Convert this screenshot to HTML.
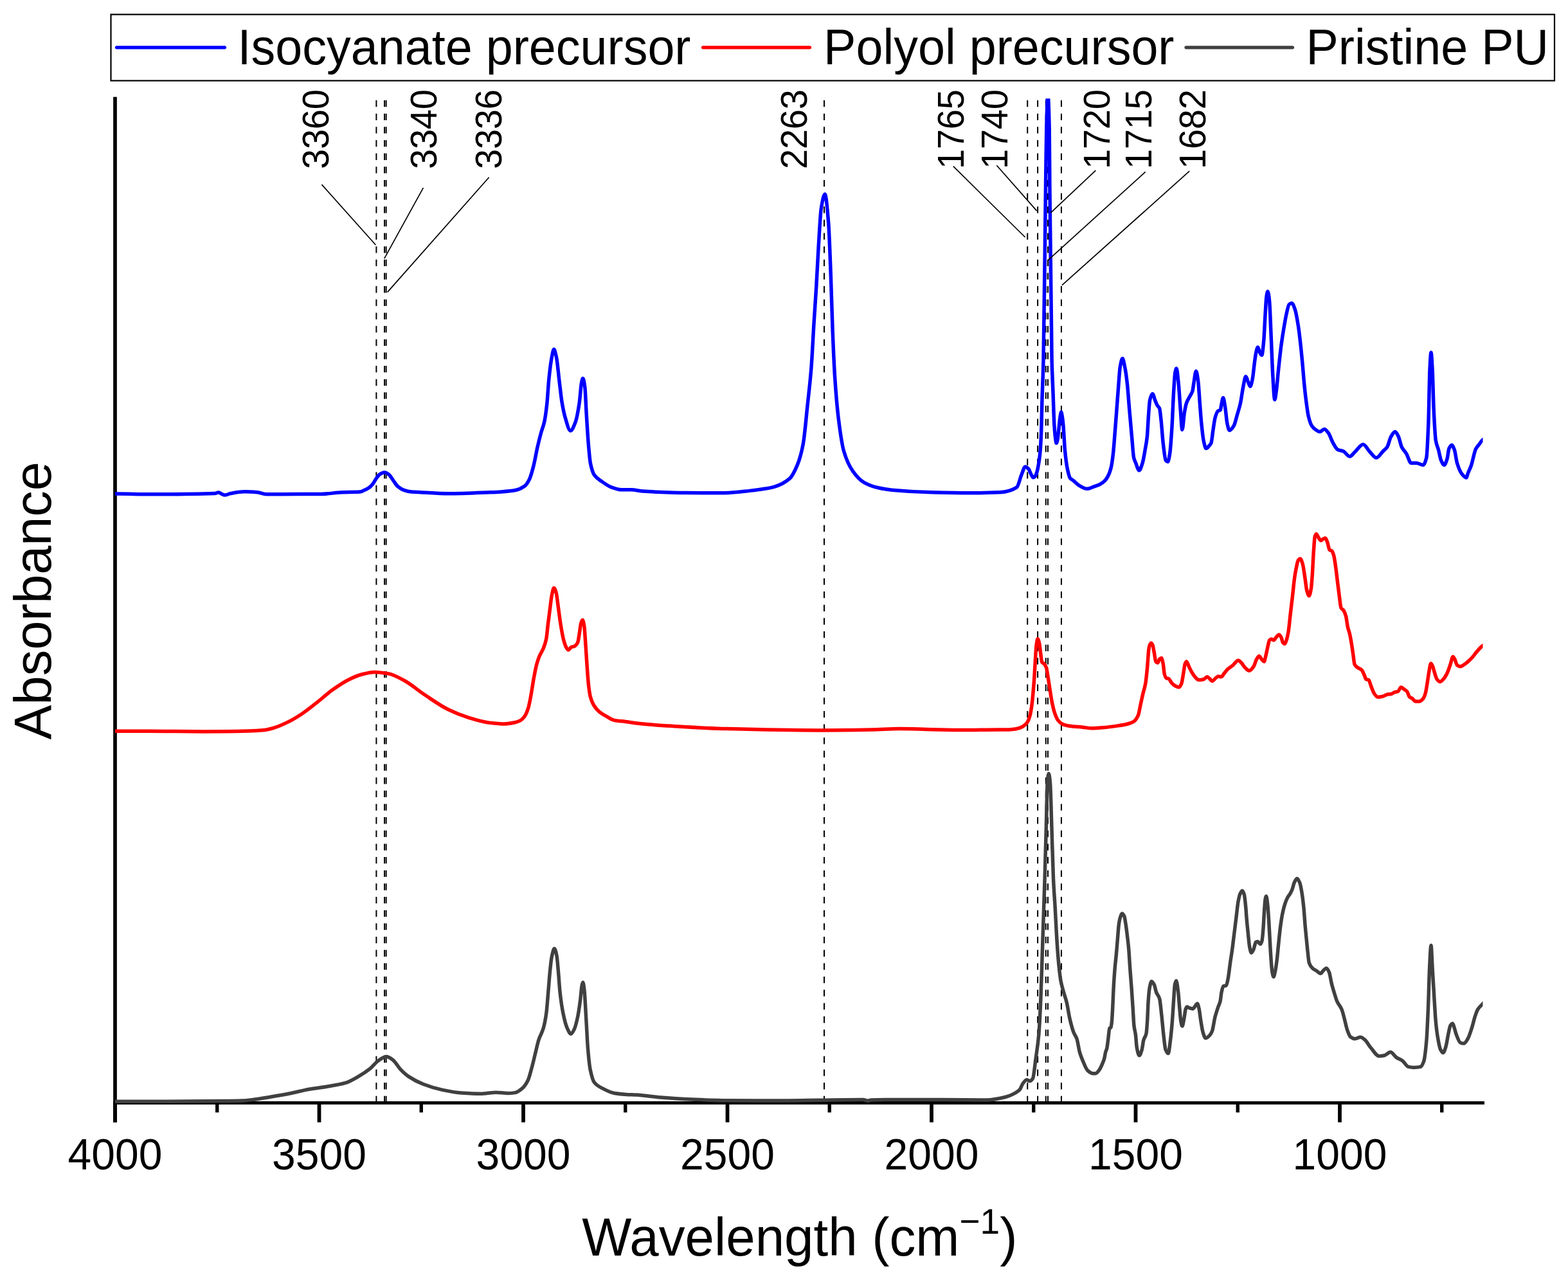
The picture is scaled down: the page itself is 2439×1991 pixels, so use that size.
<!DOCTYPE html>
<html><head><meta charset="utf-8"><title>FTIR spectra</title>
<style>html,body{margin:0;padding:0;background:#fff;}svg{display:block;}</style>
</head><body>
<svg width="2439" height="1991" viewBox="0 0 2439 1991" font-family="'Liberation Sans', Arial, Helvetica, sans-serif">
<rect x="0" y="0" width="2439" height="1991" fill="#fff"/>
<rect x="172.5" y="22.5" width="2245.5" height="103" fill="none" stroke="#000" stroke-width="2.2"/>
<line x1="181.5" y1="73.8" x2="349.5" y2="73.8" stroke="#0000ff" stroke-width="5.2" stroke-linecap="round"/>
<line x1="1093.5" y1="73.8" x2="1259.5" y2="73.8" stroke="#ff0000" stroke-width="5.2" stroke-linecap="round"/>
<line x1="1845" y1="73.8" x2="2010.5" y2="73.8" stroke="#404040" stroke-width="5.2" stroke-linecap="round"/>
<g font-size="75.5" fill="#000">
<text transform="translate(369.6,100) scale(1,1.025)">Isocyanate precursor</text>
<text transform="translate(1281.1,100) scale(1,1.025)">Polyol precursor</text>
<text transform="translate(2031.5,100) scale(1,1.025)">Pristine PU</text>
</g>
<g stroke="#000" fill="none">
<line x1="179" y1="150.7" x2="179" y2="1745.7" stroke-width="5.7"/>
<line x1="176" y1="1715.5" x2="2309" y2="1715.5" stroke-width="5.2"/>
<line x1="179.00" y1="1715" x2="179.00" y2="1745.7" stroke-width="5.8"/>
<line x1="496.50" y1="1715" x2="496.50" y2="1745.7" stroke-width="5.8"/>
<line x1="814.00" y1="1715" x2="814.00" y2="1745.7" stroke-width="5.8"/>
<line x1="1131.50" y1="1715" x2="1131.50" y2="1745.7" stroke-width="5.8"/>
<line x1="1449.00" y1="1715" x2="1449.00" y2="1745.7" stroke-width="5.8"/>
<line x1="1766.50" y1="1715" x2="1766.50" y2="1745.7" stroke-width="5.8"/>
<line x1="2084.00" y1="1715" x2="2084.00" y2="1745.7" stroke-width="5.8"/>
<line x1="337.75" y1="1715" x2="337.75" y2="1730.4" stroke-width="5.4"/>
<line x1="655.25" y1="1715" x2="655.25" y2="1730.4" stroke-width="5.4"/>
<line x1="972.75" y1="1715" x2="972.75" y2="1730.4" stroke-width="5.4"/>
<line x1="1290.25" y1="1715" x2="1290.25" y2="1730.4" stroke-width="5.4"/>
<line x1="1607.75" y1="1715" x2="1607.75" y2="1730.4" stroke-width="5.4"/>
<line x1="1925.25" y1="1715" x2="1925.25" y2="1730.4" stroke-width="5.4"/>
<line x1="2242.75" y1="1715" x2="2242.75" y2="1730.4" stroke-width="5.4"/>
</g>
<g stroke="#000" stroke-width="2" stroke-dasharray="10.3 10.35" fill="none">
<line x1="585.40" y1="156" x2="585.40" y2="1713"/>
<line x1="598.10" y1="156" x2="598.10" y2="1713"/>
<line x1="600.64" y1="156" x2="600.64" y2="1713"/>
<line x1="1282.00" y1="156" x2="1282.00" y2="1713"/>
<line x1="1598.22" y1="156" x2="1598.22" y2="1713"/>
<line x1="1614.10" y1="156" x2="1614.10" y2="1713"/>
<line x1="1626.80" y1="156" x2="1626.80" y2="1713"/>
<line x1="1629.97" y1="156" x2="1629.97" y2="1713"/>
<line x1="1650.93" y1="156" x2="1650.93" y2="1713"/>
</g>
<defs><clipPath id="pc"><rect x="179" y="153.3" width="2127.5" height="1600"/></clipPath></defs>
<g fill="none" stroke-width="5.5" stroke-linejoin="round" stroke-linecap="round" clip-path="url(#pc)">
<path stroke="#404040" d="M175.00,1713.20C176.80,1713.20 178.60,1713.20 180.40,1713.20C206.57,1713.20 232.73,1713.20 258.90,1713.20C288.50,1713.20 318.10,1712.93 347.70,1712.60C357.57,1712.49 367.43,1712.35 377.30,1712.00C383.23,1711.79 389.17,1710.92 395.10,1710.20C404.00,1709.12 412.90,1707.49 421.80,1706.00C431.67,1704.35 441.53,1702.65 451.40,1700.70C461.27,1698.75 471.13,1695.95 481.00,1694.20C490.87,1692.45 500.73,1691.50 510.60,1689.80C519.50,1688.27 528.40,1687.01 537.30,1684.40C544.20,1682.38 551.10,1678.05 558.00,1674.10C563.93,1670.70 569.87,1667.00 575.80,1662.20C579.77,1658.99 583.73,1653.12 587.70,1650.40C592.13,1647.36 596.57,1643.50 601.00,1643.50C604.47,1643.50 607.93,1646.38 611.40,1648.90C615.33,1651.76 619.27,1659.63 623.20,1663.70C627.13,1667.77 631.07,1671.44 635.00,1674.10C642.90,1679.44 650.80,1683.46 658.70,1686.50C668.60,1690.31 678.50,1693.35 688.40,1695.40C698.27,1697.45 708.13,1699.46 718.00,1700.10C727.87,1700.74 737.73,1701.30 747.60,1701.30C755.50,1701.30 763.40,1699.20 771.30,1699.20C777.53,1699.20 783.77,1700.50 790.00,1700.50C793.70,1700.50 797.40,1700.13 801.10,1699.60C804.77,1699.08 808.43,1696.19 812.10,1693.10C815.17,1690.52 818.23,1686.43 821.30,1680.20C823.17,1676.41 825.03,1668.55 826.90,1661.80C828.73,1655.17 830.57,1647.07 832.40,1639.70C834.23,1632.33 836.07,1623.32 837.90,1617.60C840.37,1609.91 842.83,1607.67 845.30,1599.10C846.83,1593.77 848.37,1586.34 849.90,1575.10C850.83,1568.26 851.77,1554.54 852.70,1543.80C853.63,1533.06 854.57,1519.63 855.50,1510.60C856.40,1501.89 857.30,1492.74 858.20,1488.50C859.57,1482.06 860.93,1475.50 862.30,1475.50C863.53,1475.50 864.77,1480.75 866.00,1486.70C866.80,1490.56 867.60,1501.81 868.40,1510.60C869.30,1520.48 870.20,1535.71 871.10,1543.80C872.63,1557.58 874.17,1567.63 875.70,1575.10C877.87,1585.65 880.03,1594.38 882.20,1599.10C884.17,1603.38 886.13,1608.30 888.10,1608.30C889.80,1608.30 891.50,1604.47 893.20,1601.00C895.07,1597.19 896.93,1589.55 898.80,1580.70C900.03,1574.85 901.27,1566.03 902.50,1556.70C903.40,1549.89 904.30,1536.69 905.20,1532.70C905.70,1530.48 906.20,1528.00 906.70,1528.00C907.43,1528.00 908.17,1534.23 908.90,1540.10C909.83,1547.57 910.77,1569.07 911.70,1584.40C912.60,1599.18 913.50,1619.76 914.40,1630.50C915.63,1645.22 916.87,1657.63 918.10,1663.60C920.27,1674.09 922.43,1681.20 924.60,1683.90C928.90,1689.26 933.20,1690.85 937.50,1693.10C943.63,1696.31 949.77,1699.50 955.90,1700.50C962.07,1701.51 968.23,1702.06 974.40,1702.40C979.60,1702.69 984.80,1702.72 990.00,1703.00C1001.47,1703.61 1012.93,1705.76 1024.40,1706.70C1041.60,1708.10 1058.80,1709.27 1076.00,1710.00C1095.13,1710.81 1114.27,1711.71 1133.40,1711.80C1162.07,1711.93 1190.73,1712.00 1219.40,1712.00C1238.53,1712.00 1257.67,1711.43 1276.80,1711.20C1298.77,1710.93 1320.73,1710.50 1342.70,1710.50C1345.10,1710.50 1347.50,1712.30 1349.90,1712.30C1351.60,1712.30 1353.30,1711.09 1355.00,1711.00C1362.40,1710.63 1369.80,1710.50 1377.20,1710.50C1391.53,1710.50 1405.87,1710.50 1420.20,1710.50C1434.53,1710.50 1448.87,1710.50 1463.20,1710.50C1487.10,1710.50 1511.00,1711.00 1534.90,1711.00C1544.47,1711.00 1554.03,1708.78 1563.60,1706.50C1569.07,1705.20 1574.53,1702.69 1580.00,1699.60C1582.07,1698.43 1584.13,1697.21 1586.20,1694.90C1587.77,1693.15 1589.33,1687.71 1590.90,1685.60C1592.97,1682.81 1595.03,1679.40 1597.10,1679.40C1598.67,1679.40 1600.23,1681.60 1601.80,1681.60C1603.33,1681.60 1604.87,1680.05 1606.40,1677.80C1607.97,1675.51 1609.53,1658.01 1611.10,1646.70C1612.67,1635.39 1614.23,1627.15 1615.80,1609.40C1616.83,1597.69 1617.87,1576.74 1618.90,1553.40C1619.93,1530.06 1620.97,1491.12 1622.00,1460.00C1623.03,1428.88 1624.07,1400.46 1625.10,1366.70C1625.83,1342.74 1626.57,1315.68 1627.30,1288.90C1627.93,1265.77 1628.57,1224.56 1629.20,1217.30C1629.90,1209.28 1630.60,1203.30 1631.30,1203.30C1632.03,1203.30 1632.77,1209.77 1633.50,1217.30C1634.33,1225.86 1635.17,1264.04 1636.00,1288.90C1636.83,1313.76 1637.67,1348.50 1638.50,1366.70C1639.43,1387.09 1640.37,1396.95 1641.30,1413.40C1642.13,1428.09 1642.97,1447.12 1643.80,1460.00C1644.83,1475.97 1645.87,1490.22 1646.90,1500.50C1647.93,1510.78 1648.97,1519.79 1650.00,1525.40C1651.57,1533.90 1653.13,1538.28 1654.70,1544.00C1656.23,1549.60 1657.77,1553.26 1659.30,1559.60C1660.87,1566.07 1662.43,1577.82 1664.00,1584.50C1666.07,1593.32 1668.13,1601.13 1670.20,1606.30C1671.77,1610.22 1673.33,1611.25 1674.90,1615.60C1676.47,1619.95 1678.03,1632.06 1679.60,1637.40C1681.13,1642.62 1682.67,1646.23 1684.20,1649.80C1686.80,1655.85 1689.40,1663.19 1692.00,1665.40C1694.67,1667.66 1697.33,1669.70 1700.00,1669.70C1701.37,1669.70 1702.73,1669.70 1704.10,1669.70C1706.20,1669.70 1708.30,1666.35 1710.40,1663.50C1711.77,1661.64 1713.13,1658.37 1714.50,1655.20C1715.53,1652.80 1716.57,1650.55 1717.60,1646.90C1718.30,1644.43 1719.00,1639.21 1719.70,1636.60C1720.40,1633.99 1721.10,1633.28 1721.80,1630.30C1722.47,1627.46 1723.13,1620.84 1723.80,1615.80C1724.50,1610.51 1725.20,1599.83 1725.90,1599.20C1726.60,1598.57 1727.30,1598.86 1728.00,1598.20C1728.47,1597.76 1728.93,1593.30 1729.40,1588.90C1729.83,1584.81 1730.27,1576.14 1730.70,1568.10C1731.17,1559.44 1731.63,1545.41 1732.10,1537.00C1732.80,1524.39 1733.50,1514.19 1734.20,1505.90C1734.90,1497.61 1735.60,1492.74 1736.30,1485.20C1737.00,1477.66 1737.70,1468.44 1738.40,1460.30C1739.07,1452.55 1739.73,1442.12 1740.40,1437.50C1741.10,1432.65 1741.80,1429.15 1742.50,1427.10C1743.53,1424.07 1744.57,1420.90 1745.60,1420.90C1746.63,1420.90 1747.67,1422.78 1748.70,1425.00C1749.60,1426.94 1750.50,1433.70 1751.40,1439.50C1752.10,1444.01 1752.80,1450.24 1753.50,1456.10C1754.20,1461.96 1754.90,1467.01 1755.60,1474.80C1756.30,1482.59 1757.00,1496.21 1757.70,1505.90C1758.50,1516.97 1759.30,1525.93 1760.10,1537.00C1760.80,1546.69 1761.50,1557.36 1762.20,1568.10C1762.77,1576.80 1763.33,1590.14 1763.90,1595.10C1764.73,1602.40 1765.57,1603.34 1766.40,1609.60C1767.07,1614.61 1767.73,1627.01 1768.40,1630.30C1769.67,1636.55 1770.93,1641.70 1772.20,1641.70C1773.57,1641.70 1774.93,1637.02 1776.30,1632.40C1777.13,1629.58 1777.97,1620.89 1778.80,1617.90C1780.20,1612.87 1781.60,1613.83 1783.00,1607.50C1783.53,1605.09 1784.07,1596.88 1784.60,1588.90C1785.10,1581.42 1785.60,1564.72 1786.10,1557.70C1786.77,1548.34 1787.43,1540.51 1788.10,1537.00C1789.13,1531.56 1790.17,1526.60 1791.20,1526.60C1792.60,1526.60 1794.00,1529.14 1795.40,1531.80C1796.43,1533.76 1797.47,1540.45 1798.50,1543.20C1800.23,1547.81 1801.97,1547.75 1803.70,1553.60C1804.73,1557.09 1805.77,1569.28 1806.80,1578.50C1807.83,1587.72 1808.87,1600.83 1809.90,1609.60C1810.93,1618.37 1811.97,1629.77 1813.00,1632.40C1814.40,1635.96 1815.80,1638.60 1817.20,1638.60C1818.23,1638.60 1819.27,1627.76 1820.30,1620.00C1821.33,1612.24 1822.37,1601.43 1823.40,1588.90C1824.10,1580.41 1824.80,1567.58 1825.50,1557.70C1826.17,1548.29 1826.83,1533.60 1827.50,1530.80C1828.20,1527.86 1828.90,1525.60 1829.60,1525.60C1830.63,1525.60 1831.67,1535.08 1832.70,1543.20C1833.40,1548.70 1834.10,1560.54 1834.80,1568.10C1835.50,1575.66 1836.20,1585.22 1836.90,1588.90C1837.57,1592.41 1838.23,1596.10 1838.90,1596.10C1839.97,1596.10 1841.03,1588.04 1842.10,1582.60C1842.77,1579.20 1843.43,1572.22 1844.10,1570.20C1844.80,1568.07 1845.50,1566.00 1846.20,1566.00C1847.60,1566.00 1849.00,1567.67 1850.40,1568.10C1852.10,1568.62 1853.80,1569.20 1855.50,1569.20C1856.90,1569.20 1858.30,1565.66 1859.70,1564.00C1860.60,1562.93 1861.50,1560.90 1862.40,1560.90C1863.23,1560.90 1864.07,1564.79 1864.90,1568.10C1865.93,1572.21 1866.97,1582.75 1868.00,1588.90C1869.03,1595.05 1870.07,1602.14 1871.10,1605.50C1872.47,1609.94 1873.83,1614.80 1875.20,1614.80C1877.30,1614.80 1879.40,1612.70 1881.50,1610.60C1882.87,1609.24 1884.23,1606.94 1885.60,1603.40C1887.00,1599.78 1888.40,1588.14 1889.80,1582.60C1891.50,1575.88 1893.20,1570.96 1894.90,1566.00C1895.93,1562.99 1896.97,1561.80 1898.00,1557.70C1898.70,1554.92 1899.40,1546.46 1900.10,1543.20C1901.00,1539.01 1901.90,1534.30 1902.80,1533.90C1904.33,1533.22 1905.87,1533.57 1907.40,1532.90C1908.43,1532.45 1909.47,1525.78 1910.50,1520.40C1911.53,1515.02 1912.57,1504.83 1913.60,1497.60C1914.63,1490.37 1915.67,1484.44 1916.70,1476.90C1917.73,1469.36 1918.77,1460.30 1919.80,1452.00C1920.83,1443.70 1921.87,1435.40 1922.90,1427.10C1923.93,1418.80 1924.97,1407.61 1926.00,1402.20C1927.07,1396.61 1928.13,1391.94 1929.20,1389.80C1930.23,1387.73 1931.27,1385.60 1932.30,1385.60C1933.33,1385.60 1934.37,1388.37 1935.40,1391.80C1936.10,1394.12 1936.80,1401.62 1937.50,1408.40C1938.17,1414.86 1938.83,1425.94 1939.50,1433.30C1940.20,1441.03 1940.90,1447.55 1941.60,1454.10C1942.30,1460.65 1943.00,1469.14 1943.70,1472.70C1944.60,1477.28 1945.50,1482.10 1946.40,1482.10C1947.57,1482.10 1948.73,1479.28 1949.90,1476.90C1951.07,1474.52 1952.23,1466.32 1953.40,1465.50C1954.30,1464.87 1955.20,1464.40 1956.10,1464.40C1957.50,1464.40 1958.90,1468.60 1960.30,1468.60C1961.20,1468.60 1962.10,1466.40 1963.00,1463.40C1963.67,1461.18 1964.33,1452.04 1965.00,1443.70C1965.50,1437.44 1966.00,1426.19 1966.50,1418.80C1966.97,1411.90 1967.43,1402.82 1967.90,1400.10C1968.47,1396.79 1969.03,1393.90 1969.60,1393.90C1970.30,1393.90 1971.00,1400.61 1971.70,1406.40C1972.37,1411.92 1973.03,1422.92 1973.70,1433.30C1974.27,1442.12 1974.83,1454.60 1975.40,1464.40C1976.03,1475.35 1976.67,1487.51 1977.30,1495.50C1977.83,1502.23 1978.37,1509.26 1978.90,1512.10C1979.60,1515.83 1980.30,1519.40 1981.00,1519.40C1981.90,1519.40 1982.80,1514.12 1983.70,1510.00C1984.53,1506.19 1985.37,1500.12 1986.20,1493.50C1987.03,1486.88 1987.87,1476.58 1988.70,1468.60C1989.60,1459.98 1990.50,1450.70 1991.40,1443.70C1992.43,1435.67 1993.47,1428.27 1994.50,1423.00C1995.87,1416.03 1997.23,1410.60 1998.60,1406.40C2000.00,1402.09 2001.40,1398.63 2002.80,1396.00C2004.17,1393.44 2005.53,1392.19 2006.90,1389.80C2007.93,1388.00 2008.97,1386.11 2010.00,1383.50C2011.03,1380.89 2012.07,1375.41 2013.10,1373.20C2014.57,1370.07 2016.03,1366.50 2017.50,1366.50C2018.93,1366.50 2020.37,1369.76 2021.80,1373.20C2022.83,1375.68 2023.87,1381.59 2024.90,1387.70C2025.93,1393.81 2026.97,1402.25 2028.00,1412.60C2028.70,1419.61 2029.40,1431.47 2030.10,1439.50C2030.77,1447.15 2031.43,1453.55 2032.10,1460.30C2032.80,1467.39 2033.50,1474.86 2034.20,1481.00C2034.90,1487.14 2035.60,1495.55 2036.30,1497.60C2038.03,1502.68 2039.77,1504.26 2041.50,1505.90C2043.57,1507.86 2045.63,1508.66 2047.70,1510.00C2049.90,1511.43 2052.10,1514.20 2054.30,1514.20C2055.57,1514.20 2056.83,1511.18 2058.10,1510.00C2059.83,1508.39 2061.57,1505.90 2063.30,1505.90C2064.67,1505.90 2066.03,1509.00 2067.40,1512.10C2068.77,1515.20 2070.13,1525.43 2071.50,1530.80C2072.90,1536.31 2074.30,1540.79 2075.70,1545.30C2077.07,1549.71 2078.43,1554.63 2079.80,1557.70C2082.23,1563.16 2084.67,1564.40 2087.10,1570.20C2088.47,1573.46 2089.83,1579.60 2091.20,1584.70C2092.60,1589.92 2094.00,1597.31 2095.40,1601.30C2097.13,1606.24 2098.87,1611.41 2100.60,1612.70C2103.00,1614.49 2105.40,1615.80 2107.80,1615.80C2110.57,1615.80 2113.33,1613.30 2116.10,1613.30C2118.20,1613.30 2120.30,1615.21 2122.40,1616.80C2125.83,1619.39 2129.27,1626.39 2132.70,1630.30C2136.87,1635.05 2141.03,1642.80 2145.20,1642.80C2147.97,1642.80 2150.73,1642.28 2153.50,1641.70C2156.60,1641.05 2159.70,1636.60 2162.80,1636.60C2165.90,1636.60 2169.00,1642.81 2172.10,1644.90C2175.23,1647.02 2178.37,1647.79 2181.50,1650.00C2184.60,1652.19 2187.70,1658.74 2190.80,1659.40C2193.57,1659.99 2196.33,1660.40 2199.10,1660.40C2202.57,1660.40 2206.03,1660.10 2209.50,1659.40C2211.20,1659.06 2212.90,1655.73 2214.60,1651.10C2216.00,1647.29 2217.40,1635.46 2218.80,1620.00C2219.70,1610.06 2220.60,1589.27 2221.50,1568.10C2222.20,1551.63 2222.90,1519.76 2223.60,1505.90C2224.40,1490.06 2225.20,1470.60 2226.00,1470.60C2226.70,1470.60 2227.40,1494.21 2228.10,1505.90C2228.93,1519.82 2229.77,1534.09 2230.60,1547.40C2231.50,1561.77 2232.40,1579.36 2233.30,1588.90C2234.33,1599.85 2235.37,1607.70 2236.40,1613.70C2237.80,1621.83 2239.20,1629.64 2240.60,1632.40C2241.97,1635.09 2243.33,1637.60 2244.70,1637.60C2246.10,1637.60 2247.50,1632.62 2248.90,1628.30C2250.27,1624.08 2251.63,1613.58 2253.00,1607.50C2254.03,1602.90 2255.07,1596.62 2256.10,1595.10C2257.27,1593.39 2258.43,1592.00 2259.60,1592.00C2260.50,1592.00 2261.40,1596.53 2262.30,1599.20C2263.33,1602.26 2264.37,1606.96 2265.40,1609.60C2267.50,1614.97 2269.60,1621.22 2271.70,1622.00C2273.43,1622.65 2275.17,1623.10 2276.90,1623.10C2278.97,1623.10 2281.03,1619.18 2283.10,1615.80C2285.17,1612.42 2287.23,1605.56 2289.30,1599.20C2291.03,1593.87 2292.77,1585.71 2294.50,1580.60C2295.87,1576.57 2297.23,1572.43 2298.60,1570.20C2301.03,1566.24 2303.47,1564.40 2305.90,1561.90C2307.27,1560.50 2308.63,1559.30 2310.00,1558.00"/>
<path stroke="#ff0000" d="M175.00,1137.30C176.43,1137.30 177.87,1137.30 179.30,1137.30C196.90,1137.30 214.50,1137.30 232.10,1137.30C260.00,1137.30 287.90,1137.90 315.80,1137.90C339.60,1137.90 363.40,1137.56 387.20,1137.00C395.47,1136.80 403.73,1136.28 412.00,1135.40C417.17,1134.85 422.33,1133.26 427.50,1131.70C434.77,1129.51 442.03,1126.00 449.30,1122.40C455.50,1119.33 461.70,1115.56 467.90,1111.50C476.17,1106.09 484.43,1099.34 492.70,1092.90C500.97,1086.46 509.23,1078.64 517.50,1072.80C525.80,1066.93 534.10,1061.30 542.40,1057.20C548.60,1054.14 554.80,1051.12 561.00,1049.50C568.23,1047.61 575.47,1045.40 582.70,1045.40C589.93,1045.40 597.17,1046.60 604.40,1047.90C612.67,1049.39 620.93,1054.38 629.20,1058.80C639.57,1064.34 649.93,1073.65 660.30,1080.50C672.70,1088.70 685.10,1097.79 697.50,1103.80C707.83,1108.81 718.17,1113.01 728.50,1116.20C738.87,1119.40 749.23,1122.71 759.60,1124.00C767.87,1125.03 776.13,1126.10 784.40,1126.10C789.60,1126.10 794.80,1125.04 800.00,1124.00C802.87,1123.42 805.73,1122.53 808.60,1121.10C811.00,1119.91 813.40,1117.73 815.80,1114.60C817.73,1112.08 819.67,1107.64 821.60,1101.70C823.03,1097.29 824.47,1089.07 825.90,1081.50C827.33,1073.93 828.77,1063.36 830.20,1055.60C831.67,1047.66 833.13,1039.48 834.60,1034.00C836.03,1028.64 837.47,1024.48 838.90,1021.00C841.07,1015.73 843.23,1013.60 845.40,1008.10C846.83,1004.46 848.27,1000.77 849.70,993.70C850.67,988.93 851.63,976.99 852.60,969.20C853.53,961.68 854.47,954.67 855.40,947.60C856.37,940.27 857.33,930.63 858.30,926.00C859.40,920.74 860.50,914.50 861.60,914.50C862.77,914.50 863.93,917.97 865.10,921.70C866.20,925.21 867.30,936.91 868.40,944.70C869.60,953.19 870.80,963.19 872.00,970.60C873.43,979.45 874.87,988.18 876.30,993.70C877.73,999.22 879.17,1004.14 880.60,1006.60C881.80,1008.66 883.00,1011.00 884.20,1011.00C885.67,1011.00 887.13,1007.25 888.60,1006.60C890.27,1005.86 891.93,1005.95 893.60,1005.20C895.27,1004.45 896.93,1002.78 898.60,999.40C899.57,997.44 900.53,989.37 901.50,983.60C902.23,979.22 902.97,971.54 903.70,969.20C904.50,966.65 905.30,964.20 906.10,964.20C906.97,964.20 907.83,968.55 908.70,973.50C909.43,977.69 910.17,992.01 910.90,1002.30C911.60,1012.12 912.30,1024.18 913.00,1034.00C913.73,1044.29 914.47,1056.06 915.20,1062.80C916.17,1071.69 917.13,1079.13 918.10,1082.90C920.00,1090.31 921.90,1094.20 923.80,1097.30C926.70,1102.04 929.60,1105.01 932.50,1107.40C936.33,1110.56 940.17,1112.46 944.00,1114.60C947.83,1116.74 951.67,1119.62 955.50,1120.40C961.27,1121.58 967.03,1121.77 972.80,1122.50C981.87,1123.64 990.93,1125.24 1000.00,1126.10C1015.47,1127.57 1030.93,1128.48 1046.40,1129.40C1074.60,1131.08 1102.80,1132.88 1131.00,1133.60C1178.03,1134.81 1225.07,1135.90 1272.10,1135.90C1300.30,1135.90 1328.50,1135.48 1356.70,1135.00C1370.80,1134.76 1384.90,1133.60 1399.00,1133.60C1413.10,1133.60 1427.20,1134.12 1441.30,1134.40C1460.13,1134.78 1478.97,1135.60 1497.80,1135.60C1516.60,1135.60 1535.40,1134.90 1554.20,1134.90C1559.47,1134.90 1564.73,1134.90 1570.00,1134.90C1573.47,1134.90 1576.93,1134.36 1580.40,1133.80C1583.83,1133.24 1587.27,1131.98 1590.70,1130.20C1593.13,1128.94 1595.57,1126.93 1598.00,1123.50C1599.37,1121.57 1600.73,1118.01 1602.10,1113.10C1603.17,1109.26 1604.23,1102.54 1605.30,1094.40C1605.97,1089.31 1606.63,1081.40 1607.30,1073.70C1607.83,1067.54 1608.37,1060.91 1608.90,1053.00C1609.40,1045.58 1609.90,1034.83 1610.40,1027.00C1610.93,1018.65 1611.47,1008.21 1612.00,1004.20C1612.70,998.94 1613.40,993.80 1614.10,993.80C1614.97,993.80 1615.83,997.45 1616.70,1001.10C1617.37,1003.91 1618.03,1012.02 1618.70,1016.70C1619.40,1021.62 1620.10,1029.20 1620.80,1030.10C1621.83,1031.43 1622.87,1031.21 1623.90,1032.20C1625.10,1033.35 1626.30,1035.14 1627.50,1038.40C1628.37,1040.75 1629.23,1047.80 1630.10,1053.00C1631.17,1059.40 1632.23,1067.04 1633.30,1073.70C1634.33,1080.15 1635.37,1087.36 1636.40,1092.40C1637.77,1099.06 1639.13,1104.95 1640.50,1108.90C1642.23,1113.91 1643.97,1118.22 1645.70,1120.40C1648.13,1123.46 1650.57,1125.62 1653.00,1126.60C1656.43,1127.98 1659.87,1128.70 1663.30,1129.20C1670.23,1130.22 1677.17,1130.51 1684.10,1131.20C1689.27,1131.72 1694.43,1132.80 1699.60,1132.80C1704.80,1132.80 1710.00,1132.23 1715.20,1131.80C1723.13,1131.15 1731.07,1130.10 1739.00,1128.90C1744.07,1128.13 1749.13,1127.35 1754.20,1126.00C1757.37,1125.16 1760.53,1124.24 1763.70,1122.20C1765.93,1120.76 1768.17,1117.76 1770.40,1112.70C1771.67,1109.83 1772.93,1101.30 1774.20,1095.60C1775.47,1089.90 1776.73,1083.86 1778.00,1078.50C1779.27,1073.14 1780.53,1070.41 1781.80,1063.30C1782.73,1058.06 1783.67,1048.27 1784.60,1038.60C1785.37,1030.66 1786.13,1015.15 1786.90,1010.10C1787.37,1007.02 1787.83,1004.57 1788.30,1003.50C1789.07,1001.74 1789.83,1000.20 1790.60,1000.20C1791.33,1000.20 1792.07,1001.53 1792.80,1003.00C1793.57,1004.53 1794.33,1010.03 1795.10,1013.90C1796.03,1018.61 1796.97,1028.00 1797.90,1029.10C1798.87,1030.24 1799.83,1031.00 1800.80,1031.00C1801.73,1031.00 1802.67,1026.23 1803.60,1025.30C1804.57,1024.34 1805.53,1023.40 1806.50,1023.40C1807.43,1023.40 1808.37,1028.33 1809.30,1032.90C1809.93,1036.00 1810.57,1045.77 1811.20,1048.10C1812.17,1051.66 1813.13,1054.23 1814.10,1054.70C1815.37,1055.32 1816.63,1055.15 1817.90,1055.70C1819.47,1056.38 1821.03,1060.64 1822.60,1062.30C1824.50,1064.32 1826.40,1066.19 1828.30,1067.10C1830.20,1068.01 1832.10,1069.00 1834.00,1069.00C1835.27,1069.00 1836.53,1066.33 1837.80,1063.30C1838.77,1060.99 1839.73,1053.55 1840.70,1048.10C1841.53,1043.40 1842.37,1035.05 1843.20,1032.90C1843.97,1030.92 1844.73,1029.10 1845.50,1029.10C1846.77,1029.10 1848.03,1034.17 1849.30,1036.70C1850.57,1039.23 1851.83,1042.11 1853.10,1044.30C1855.00,1047.58 1856.90,1050.75 1858.80,1052.80C1860.70,1054.85 1862.60,1057.60 1864.50,1057.60C1867.03,1057.60 1869.57,1057.23 1872.10,1056.70C1874.00,1056.30 1875.90,1052.80 1877.80,1052.80C1879.07,1052.80 1880.33,1054.60 1881.60,1055.70C1882.87,1056.80 1884.13,1059.50 1885.40,1059.50C1887.30,1059.50 1889.20,1056.19 1891.10,1054.70C1892.37,1053.71 1893.63,1051.90 1894.90,1051.90C1896.47,1051.90 1898.03,1052.80 1899.60,1052.80C1901.20,1052.80 1902.80,1048.98 1904.40,1047.10C1906.30,1044.87 1908.20,1042.25 1910.10,1040.50C1912.63,1038.17 1915.17,1036.86 1917.70,1034.80C1920.53,1032.49 1923.37,1027.20 1926.20,1027.20C1927.80,1027.20 1929.40,1029.42 1931.00,1031.00C1932.90,1032.87 1934.80,1036.82 1936.70,1038.60C1938.90,1040.66 1941.10,1043.30 1943.30,1043.30C1945.53,1043.30 1947.77,1039.91 1950.00,1036.70C1951.57,1034.45 1953.13,1027.87 1954.70,1025.30C1955.97,1023.22 1957.23,1020.50 1958.50,1020.50C1959.77,1020.50 1961.03,1023.91 1962.30,1025.30C1963.60,1026.73 1964.90,1029.10 1966.20,1029.10C1967.13,1029.10 1968.07,1023.24 1969.00,1019.60C1969.97,1015.83 1970.93,1010.29 1971.90,1006.30C1972.83,1002.45 1973.77,996.85 1974.70,995.80C1975.67,994.72 1976.63,993.90 1977.60,993.90C1978.87,993.90 1980.13,995.80 1981.40,995.80C1982.67,995.80 1983.93,992.41 1985.20,991.10C1986.63,989.62 1988.07,987.30 1989.50,987.30C1990.60,987.30 1991.70,989.24 1992.80,991.10C1993.73,992.68 1994.67,998.59 1995.60,999.60C1996.57,1000.65 1997.53,1001.50 1998.50,1001.50C1999.43,1001.50 2000.37,997.80 2001.30,994.90C2002.27,991.90 2003.23,987.44 2004.20,981.60C2005.13,975.96 2006.07,965.00 2007.00,956.90C2008.27,945.91 2009.53,935.66 2010.80,924.50C2011.70,916.57 2012.60,906.55 2013.50,900.00C2014.23,894.67 2014.97,890.12 2015.70,886.50C2016.97,880.25 2018.23,872.93 2019.50,871.30C2020.47,870.06 2021.43,869.00 2022.40,869.00C2023.67,869.00 2024.93,873.05 2026.20,877.00C2027.47,880.95 2028.73,891.71 2030.00,899.80C2030.93,905.76 2031.87,915.49 2032.80,918.80C2033.93,922.82 2035.07,926.80 2036.20,926.80C2037.30,926.80 2038.40,921.37 2039.50,915.00C2040.13,911.33 2040.77,901.32 2041.40,892.20C2042.03,883.08 2042.67,867.12 2043.30,858.00C2043.93,848.88 2044.57,837.54 2045.20,835.20C2045.93,832.49 2046.67,830.50 2047.40,830.50C2048.57,830.50 2049.73,834.56 2050.90,836.20C2052.17,837.98 2053.43,840.90 2054.70,840.90C2055.97,840.90 2057.23,838.65 2058.50,838.10C2059.57,837.64 2060.63,837.10 2061.70,837.10C2062.83,837.10 2063.97,841.55 2065.10,844.70C2066.07,847.39 2067.03,854.32 2068.00,855.20C2069.27,856.35 2070.53,856.02 2071.80,857.10C2072.73,857.90 2073.67,860.56 2074.60,863.70C2075.57,866.95 2076.53,874.18 2077.50,880.80C2078.43,887.19 2079.37,896.13 2080.30,903.60C2081.27,911.33 2082.23,919.34 2083.20,926.40C2084.13,933.22 2085.07,943.81 2086.00,945.50C2087.27,947.80 2088.53,947.49 2089.80,949.30C2091.07,951.11 2092.33,954.27 2093.60,958.80C2094.57,962.26 2095.53,971.74 2096.50,975.90C2097.43,979.91 2098.37,981.56 2099.30,985.40C2100.27,989.38 2101.23,994.88 2102.20,1000.60C2103.13,1006.12 2104.07,1013.16 2105.00,1019.60C2105.63,1023.97 2106.27,1031.46 2106.90,1032.90C2108.17,1035.79 2109.43,1036.50 2110.70,1037.60C2113.23,1039.80 2115.77,1039.82 2118.30,1042.40C2119.57,1043.69 2120.83,1047.30 2122.10,1050.00C2123.07,1052.06 2124.03,1056.13 2125.00,1056.60C2126.27,1057.22 2127.53,1057.00 2128.80,1057.60C2130.07,1058.20 2131.33,1064.01 2132.60,1067.10C2134.20,1071.00 2135.80,1076.22 2137.40,1078.50C2139.30,1081.21 2141.20,1084.20 2143.10,1084.20C2145.63,1084.20 2148.17,1083.77 2150.70,1083.30C2153.23,1082.83 2155.77,1080.36 2158.30,1080.00C2160.20,1079.73 2162.10,1079.78 2164.00,1079.50C2165.90,1079.22 2167.80,1077.12 2169.70,1076.60C2171.27,1076.17 2172.83,1076.23 2174.40,1075.70C2176.00,1075.16 2177.60,1069.00 2179.20,1069.00C2181.10,1069.00 2183.00,1071.44 2184.90,1072.80C2186.17,1073.71 2187.43,1074.26 2188.70,1075.70C2189.97,1077.14 2191.23,1083.16 2192.50,1084.20C2193.77,1085.24 2195.03,1085.32 2196.30,1086.10C2198.20,1087.27 2200.10,1090.90 2202.00,1090.90C2203.90,1090.90 2205.80,1090.90 2207.70,1090.90C2209.60,1090.90 2211.50,1089.13 2213.40,1087.10C2214.67,1085.75 2215.93,1082.63 2217.20,1078.50C2218.13,1075.46 2219.07,1068.84 2220.00,1063.30C2220.97,1057.56 2221.93,1049.40 2222.90,1044.30C2223.83,1039.37 2224.77,1031.90 2225.70,1031.90C2226.67,1031.90 2227.63,1034.54 2228.60,1036.70C2229.53,1038.78 2230.47,1043.36 2231.40,1046.20C2232.67,1050.06 2233.93,1055.01 2235.20,1056.60C2236.80,1058.61 2238.40,1060.40 2240.00,1060.40C2241.90,1060.40 2243.80,1057.80 2245.70,1055.70C2247.60,1053.60 2249.50,1050.18 2251.40,1046.20C2253.00,1042.85 2254.60,1037.52 2256.20,1032.90C2257.47,1029.25 2258.73,1021.50 2260.00,1021.50C2260.93,1021.50 2261.87,1023.68 2262.80,1025.30C2264.07,1027.50 2265.33,1033.91 2266.60,1034.80C2268.20,1035.93 2269.80,1036.70 2271.40,1036.70C2274.23,1036.70 2277.07,1033.85 2279.90,1031.90C2283.07,1029.72 2286.23,1026.72 2289.40,1023.40C2291.93,1020.74 2294.47,1016.81 2297.00,1013.90C2299.87,1010.61 2302.73,1006.74 2305.60,1004.80C2307.07,1003.81 2308.53,1003.27 2310.00,1002.50"/>
<path stroke="#0000ff" d="M175.00,768.10C176.33,768.10 177.67,768.10 179.00,768.10C197.93,768.10 216.87,768.80 235.80,768.80C268.70,768.80 301.60,768.64 334.50,767.50C336.17,767.44 337.83,766.10 339.50,766.10C342.80,766.10 346.10,770.10 349.40,770.10C352.60,770.10 355.80,768.07 359.00,767.50C366.20,766.21 373.40,764.80 380.60,764.80C387.20,764.80 393.80,765.25 400.40,765.80C405.33,766.21 410.27,768.80 415.20,768.80C432.20,768.80 449.20,768.50 466.20,768.50C477.13,768.50 488.07,768.50 499.00,768.50C510.00,768.50 521.00,766.22 532.00,765.80C541.33,765.45 550.67,765.63 560.00,765.10C562.33,764.97 564.67,763.36 567.00,762.30C569.37,761.23 571.73,760.25 574.10,758.60C575.97,757.30 577.83,755.19 579.70,752.90C581.43,750.77 583.17,747.27 584.90,744.90C586.80,742.30 588.70,739.10 590.60,737.90C593.10,736.32 595.60,734.80 598.10,734.80C600.30,734.80 602.50,736.38 604.70,737.90C607.03,739.52 609.37,744.19 611.70,747.30C614.07,750.46 616.43,754.72 618.80,756.70C621.93,759.32 625.07,761.21 628.20,762.30C632.10,763.65 636.00,764.77 639.90,765.10C644.60,765.49 649.30,765.57 654.00,765.80C668.20,766.49 682.40,767.80 696.60,767.80C718.53,767.80 740.47,766.68 762.40,765.80C768.27,765.56 774.13,765.30 780.00,764.90C787.27,764.40 794.53,763.84 801.80,762.50C806.47,761.64 811.13,759.62 815.80,756.30C818.37,754.48 820.93,750.51 823.50,745.40C825.60,741.22 827.70,733.25 829.80,725.20C831.87,717.28 833.93,704.71 836.00,695.70C837.80,687.85 839.60,680.53 841.40,673.90C843.23,667.15 845.07,663.83 846.90,655.30C848.17,649.41 849.43,640.26 850.70,628.80C851.73,619.45 852.77,600.15 853.80,590.00C855.10,577.23 856.40,565.83 857.70,558.90C859.00,551.97 860.30,543.30 861.60,543.30C862.90,543.30 864.20,549.88 865.50,555.80C867.07,562.94 868.63,581.90 870.20,594.60C871.50,605.14 872.80,617.99 874.10,625.70C875.90,636.37 877.70,644.68 879.50,650.60C882.10,659.16 884.70,670.00 887.30,670.00C889.87,670.00 892.43,663.44 895.00,656.80C897.10,651.37 899.20,639.86 901.30,625.70C902.33,618.73 903.37,601.25 904.40,596.20C905.17,592.45 905.93,588.40 906.70,588.40C907.73,588.40 908.77,594.79 909.80,602.40C910.60,608.29 911.40,631.42 912.20,644.40C913.23,661.17 914.27,678.93 915.30,691.00C916.33,703.07 917.37,715.59 918.40,720.60C920.47,730.62 922.53,736.31 924.60,739.20C928.23,744.29 931.87,745.90 935.50,748.50C940.67,752.20 945.83,756.07 951.00,757.90C956.20,759.74 961.40,761.80 966.60,761.80C971.77,761.80 976.93,761.80 982.10,761.80C988.07,761.80 994.03,763.65 1000.00,764.10C1006.87,764.62 1013.73,764.94 1020.60,765.20C1035.87,765.79 1051.13,766.36 1066.40,766.50C1084.73,766.67 1103.07,766.80 1121.40,766.80C1133.63,766.80 1145.87,765.40 1158.10,764.30C1165.40,763.64 1172.70,762.67 1180.00,761.60C1187.97,760.44 1195.93,759.43 1203.90,757.30C1211.93,755.15 1219.97,751.58 1228.00,744.70C1232.23,741.07 1236.47,732.47 1240.70,722.10C1243.53,715.16 1246.37,705.88 1249.20,691.00C1251.53,678.75 1253.87,650.79 1256.20,628.90C1258.10,611.08 1260.00,596.41 1261.90,572.40C1263.30,554.71 1264.70,524.18 1266.10,501.80C1267.33,482.08 1268.57,465.84 1269.80,445.30C1270.93,426.42 1272.07,401.33 1273.20,383.20C1274.60,360.80 1276.00,332.61 1277.40,323.90C1279.30,312.08 1281.20,302.00 1283.10,302.00C1284.97,302.00 1286.83,323.73 1288.70,346.50C1289.93,361.55 1291.17,398.85 1292.40,431.20C1293.33,455.68 1294.27,492.78 1295.20,515.90C1296.33,543.98 1297.47,569.40 1298.60,586.50C1300.50,615.17 1302.40,636.18 1304.30,651.50C1307.10,674.07 1309.90,692.92 1312.70,702.30C1317.43,718.16 1322.17,726.83 1326.90,733.40C1332.53,741.22 1338.17,747.15 1343.80,750.30C1351.33,754.51 1358.87,757.10 1366.40,758.80C1373.37,760.37 1380.33,761.55 1387.30,762.20C1407.67,764.11 1428.03,765.28 1448.40,765.80C1468.80,766.32 1489.20,766.80 1509.60,766.80C1524.87,766.80 1540.13,766.47 1555.40,765.80C1564.07,765.42 1572.73,763.54 1581.40,758.20C1583.93,756.64 1586.47,744.27 1589.00,738.30C1590.90,733.83 1592.80,726.00 1594.70,726.00C1596.47,726.00 1598.23,727.65 1600.00,729.50C1601.17,730.72 1602.33,734.88 1603.50,737.00C1604.73,739.24 1605.97,742.80 1607.20,742.80C1608.13,742.80 1609.07,741.94 1610.00,741.00C1610.90,740.10 1611.80,737.62 1612.70,734.90C1613.63,732.08 1614.57,727.34 1615.50,722.00C1616.23,717.80 1616.97,713.36 1617.70,705.80C1618.33,699.27 1618.97,689.28 1619.60,674.10C1620.03,663.71 1620.47,638.30 1620.90,623.40C1621.60,599.34 1622.30,589.31 1623.00,560.00C1624.17,511.15 1625.33,374.44 1626.50,290.00C1626.93,258.64 1627.37,217.37 1627.80,200.00C1628.47,173.27 1629.13,146.00 1629.80,146.00C1630.60,146.00 1631.40,164.85 1632.20,200.00C1632.43,210.25 1632.67,265.12 1632.90,290.00C1633.97,403.72 1635.03,518.58 1636.10,560.00C1636.73,584.59 1637.37,593.80 1638.00,610.70C1638.63,627.60 1639.27,651.26 1639.90,661.40C1640.43,669.94 1640.97,675.87 1641.50,680.00C1642.03,684.13 1642.57,689.30 1643.10,689.30C1643.73,689.30 1644.37,686.67 1645.00,684.00C1645.63,681.33 1646.27,673.36 1646.90,667.70C1647.53,662.04 1648.17,653.95 1648.80,650.00C1649.43,646.05 1650.07,641.10 1650.70,641.10C1651.23,641.10 1651.77,644.96 1652.30,648.00C1652.83,651.04 1653.37,655.76 1653.90,661.40C1654.73,670.21 1655.57,690.70 1656.40,699.40C1657.67,712.63 1658.93,722.51 1660.20,728.60C1661.67,735.66 1663.13,741.97 1664.60,743.80C1666.30,745.92 1668.00,746.26 1669.70,747.60C1672.67,749.95 1675.63,753.54 1678.60,755.20C1682.83,757.56 1687.07,760.30 1691.30,760.30C1695.00,760.30 1698.70,757.91 1702.40,756.60C1705.17,755.62 1707.93,754.86 1710.70,753.50C1713.13,752.30 1715.57,750.63 1718.00,748.30C1719.73,746.64 1721.47,744.31 1723.20,741.10C1724.93,737.89 1726.67,733.68 1728.40,726.60C1729.43,722.38 1730.47,714.70 1731.50,705.80C1732.53,696.90 1733.57,681.46 1734.60,668.50C1735.50,657.21 1736.40,645.04 1737.30,633.20C1738.13,622.24 1738.97,610.42 1739.80,600.10C1740.63,589.78 1741.47,575.79 1742.30,571.00C1743.53,563.91 1744.77,557.50 1746.00,557.50C1747.23,557.50 1748.47,565.10 1749.70,571.00C1750.90,576.74 1752.10,585.40 1753.30,595.90C1754.47,606.11 1755.63,623.95 1756.80,637.40C1758.03,651.62 1759.27,665.42 1760.50,678.90C1761.53,690.20 1762.57,707.58 1763.60,712.00C1764.63,716.42 1765.67,717.79 1766.70,720.30C1768.43,724.51 1770.17,731.70 1771.90,731.70C1773.63,731.70 1775.37,725.68 1777.10,720.30C1778.47,716.06 1779.83,707.39 1781.20,699.60C1782.27,693.52 1783.33,688.98 1784.40,678.90C1785.07,672.60 1785.73,656.67 1786.40,647.70C1787.10,638.28 1787.80,625.99 1788.50,622.90C1789.90,616.72 1791.30,612.50 1792.70,612.50C1794.07,612.50 1795.43,619.59 1796.80,622.90C1797.83,625.40 1798.87,628.28 1799.90,630.10C1801.13,632.28 1802.37,632.25 1803.60,635.30C1804.43,637.36 1805.27,646.54 1806.10,654.00C1807.13,663.25 1808.17,680.60 1809.20,689.20C1810.60,700.86 1812.00,714.55 1813.40,716.20C1814.43,717.42 1815.47,718.30 1816.50,718.30C1817.53,718.30 1818.57,712.04 1819.60,705.80C1820.63,699.56 1821.67,684.04 1822.70,668.50C1823.73,652.96 1824.77,622.27 1825.80,606.30C1826.50,595.48 1827.20,582.66 1827.90,579.30C1828.60,575.94 1829.30,573.10 1830.00,573.10C1831.03,573.10 1832.07,586.09 1833.10,595.90C1834.13,605.71 1835.17,624.63 1836.20,637.40C1837.10,648.53 1838.00,668.50 1838.90,668.50C1840.07,668.50 1841.23,648.26 1842.40,641.50C1843.43,635.51 1844.47,630.00 1845.50,627.00C1847.23,621.97 1848.97,620.05 1850.70,616.60C1852.10,613.82 1853.50,612.77 1854.90,608.30C1855.57,606.17 1856.23,599.70 1856.90,595.90C1858.10,589.06 1859.30,577.20 1860.50,577.20C1861.60,577.20 1862.70,585.60 1863.80,593.80C1864.63,600.01 1865.47,616.29 1866.30,627.00C1867.13,637.71 1867.97,649.80 1868.80,658.10C1869.90,669.06 1871.00,680.00 1872.10,685.10C1873.40,691.13 1874.70,697.50 1876.00,697.50C1877.60,697.50 1879.20,695.10 1880.80,693.40C1881.83,692.30 1882.87,691.53 1883.90,689.20C1884.93,686.87 1885.97,675.05 1887.00,668.50C1888.03,661.95 1889.07,653.48 1890.10,649.80C1891.50,644.81 1892.90,640.68 1894.30,639.50C1895.67,638.34 1897.03,638.87 1898.40,637.40C1898.90,636.86 1899.40,631.41 1899.90,629.10C1900.80,624.94 1901.70,618.70 1902.60,618.70C1903.63,618.70 1904.67,627.09 1905.70,633.20C1906.73,639.31 1907.77,653.27 1908.80,658.10C1909.97,663.55 1911.13,669.50 1912.30,669.50C1914.60,669.50 1916.90,666.03 1919.20,662.30C1920.90,659.54 1922.60,651.51 1924.30,645.70C1926.03,639.78 1927.77,634.83 1929.50,627.00C1930.90,620.68 1932.30,608.83 1933.70,602.10C1935.07,595.53 1936.43,585.50 1937.80,585.50C1938.97,585.50 1940.13,591.17 1941.30,593.80C1942.43,596.35 1943.57,601.10 1944.70,601.10C1945.87,601.10 1947.03,595.15 1948.20,589.70C1949.23,584.87 1950.27,572.44 1951.30,564.80C1952.00,559.63 1952.70,553.53 1953.40,550.30C1954.43,545.53 1955.47,539.90 1956.50,539.90C1957.53,539.90 1958.57,546.34 1959.60,548.20C1960.63,550.06 1961.67,552.40 1962.70,552.40C1963.73,552.40 1964.77,540.58 1965.80,529.50C1966.50,522.00 1967.20,503.51 1967.90,492.20C1968.60,480.89 1969.30,465.45 1970.00,461.10C1970.67,456.96 1971.33,453.20 1972.00,453.20C1972.83,453.20 1973.67,459.96 1974.50,467.30C1975.40,475.22 1976.30,503.65 1977.20,523.30C1978.10,542.95 1979.00,570.85 1979.90,585.50C1980.87,601.24 1981.83,621.80 1982.80,621.80C1983.70,621.80 1984.60,612.83 1985.50,606.30C1986.53,598.80 1987.57,584.98 1988.60,575.20C1990.00,561.95 1991.40,548.37 1992.80,537.80C1994.17,527.48 1995.53,519.02 1996.90,510.90C1998.30,502.58 1999.70,494.12 2001.10,488.10C2002.47,482.23 2003.83,474.67 2005.20,473.50C2006.57,472.33 2007.93,471.50 2009.30,471.50C2011.03,471.50 2012.77,476.83 2014.50,481.80C2016.23,486.77 2017.97,497.67 2019.70,508.80C2020.73,515.44 2021.77,524.48 2022.80,533.70C2023.83,542.92 2024.87,553.78 2025.90,564.80C2026.93,575.82 2027.97,589.92 2029.00,600.10C2030.03,610.28 2031.07,619.33 2032.10,627.00C2033.17,634.91 2034.23,643.34 2035.30,647.70C2037.00,654.65 2038.70,659.77 2040.40,662.30C2042.50,665.43 2044.60,667.11 2046.70,668.50C2048.77,669.87 2050.83,671.60 2052.90,671.60C2055.30,671.60 2057.70,667.50 2060.10,667.50C2062.20,667.50 2064.30,670.89 2066.40,673.70C2068.80,676.92 2071.20,685.08 2073.60,689.20C2076.03,693.37 2078.47,698.54 2080.90,699.60C2083.67,700.81 2086.43,700.65 2089.20,701.70C2092.63,703.00 2096.07,710.00 2099.50,710.00C2102.27,710.00 2105.03,705.17 2107.80,702.70C2111.97,698.97 2116.13,691.30 2120.30,691.30C2123.77,691.30 2127.23,699.27 2130.70,702.70C2134.13,706.10 2137.57,712.00 2141.00,712.00C2144.47,712.00 2147.93,705.15 2151.40,701.70C2153.47,699.64 2155.53,698.51 2157.60,695.50C2159.67,692.49 2161.73,682.25 2163.80,678.90C2165.90,675.50 2168.00,671.60 2170.10,671.60C2171.80,671.60 2173.50,675.54 2175.20,678.90C2176.93,682.32 2178.67,692.03 2180.40,695.50C2182.83,700.37 2185.27,701.76 2187.70,705.80C2190.10,709.78 2192.50,720.30 2194.90,720.30C2197.67,720.30 2200.43,720.30 2203.20,720.30C2206.67,720.30 2210.13,723.40 2213.60,723.40C2215.33,723.40 2217.07,719.22 2218.80,712.00C2219.83,707.69 2220.87,683.68 2221.90,658.10C2222.60,640.77 2223.30,589.23 2224.00,575.20C2224.67,561.84 2225.33,548.20 2226.00,548.20C2226.70,548.20 2227.40,562.65 2228.10,575.20C2228.80,587.75 2229.50,622.93 2230.20,637.40C2231.23,658.76 2232.27,679.08 2233.30,685.10C2234.70,693.25 2236.10,694.38 2237.50,699.60C2238.87,704.70 2240.23,713.17 2241.60,716.20C2243.20,719.75 2244.80,723.40 2246.40,723.40C2247.90,723.40 2249.40,718.70 2250.90,714.10C2251.93,710.93 2252.97,699.65 2254.00,697.50C2255.40,694.59 2256.80,692.30 2258.20,692.30C2259.57,692.30 2260.93,696.03 2262.30,699.60C2263.70,703.26 2265.10,715.76 2266.50,720.30C2268.90,728.09 2271.30,733.92 2273.70,736.90C2276.13,739.92 2278.57,743.10 2281.00,743.10C2281.70,743.10 2282.40,738.78 2283.10,736.90C2284.83,732.26 2286.57,729.42 2288.30,724.50C2290.70,717.69 2293.10,703.34 2295.50,698.60C2297.23,695.18 2298.97,693.65 2300.70,691.30C2302.43,688.95 2304.17,686.11 2305.90,684.50C2307.27,683.23 2308.63,682.50 2310.00,681.50"/>
</g>
<g stroke="#000" stroke-width="1.7" fill="none">
<line x1="500.5" y1="287.1" x2="584.4" y2="381"/>
<line x1="658.4" y1="292.2" x2="597.8" y2="402.2"/>
<line x1="760.7" y1="275.8" x2="602.7" y2="454.4"/>
<line x1="1482.8" y1="258.7" x2="1594.6" y2="369.0"/>
<line x1="1550.3" y1="257.2" x2="1612.6" y2="327.9"/>
<line x1="1704.3" y1="265.2" x2="1634.2" y2="331.1"/>
<line x1="1781.7" y1="267.3" x2="1630.3" y2="404.7"/>
<line x1="1850.2" y1="266.2" x2="1651.9" y2="443.6"/>
</g>
<g font-size="56" fill="#000" letter-spacing="-0.2">
<text transform="translate(510.7,263) rotate(-90) scale(1,1.025)">3360</text>
<text transform="translate(678.6,263) rotate(-90) scale(1,1.025)">3340</text>
<text transform="translate(779.9,263) rotate(-90) scale(1,1.025)">3336</text>
<text transform="translate(1254.9,263) rotate(-90) scale(1,1.025)">2263</text>
<text transform="translate(1498.5,263) rotate(-90) scale(1,1.025)">1765</text>
<text transform="translate(1566.7,263) rotate(-90) scale(1,1.025)">1740</text>
<text transform="translate(1725.6,263) rotate(-90) scale(1,1.025)">1720</text>
<text transform="translate(1791.0,263) rotate(-90) scale(1,1.025)">1715</text>
<text transform="translate(1875.1,263) rotate(-90) scale(1,1.025)">1682</text>
</g>
<g font-size="66" fill="#000" text-anchor="middle">
<text transform="translate(179.0,1819) scale(1,1.025)">4000</text>
<text transform="translate(496.5,1819) scale(1,1.025)">3500</text>
<text transform="translate(814.0,1819) scale(1,1.025)">3000</text>
<text transform="translate(1131.5,1819) scale(1,1.025)">2500</text>
<text transform="translate(1449.0,1819) scale(1,1.025)">2000</text>
<text transform="translate(1766.5,1819) scale(1,1.025)">1500</text>
<text transform="translate(2084.0,1819) scale(1,1.025)">1000</text>
</g>
<text transform="translate(1243.8,1953.4) scale(1,1.025)" font-size="81.7" text-anchor="middle" fill="#000">Wavelength (cm<tspan font-size="55" dy="-34">−1</tspan><tspan dy="34">)</tspan></text>
<text transform="translate(78.6,934.3) rotate(-90)" font-size="81" text-anchor="middle" fill="#000">Absorbance</text>
</svg>
</body></html>
